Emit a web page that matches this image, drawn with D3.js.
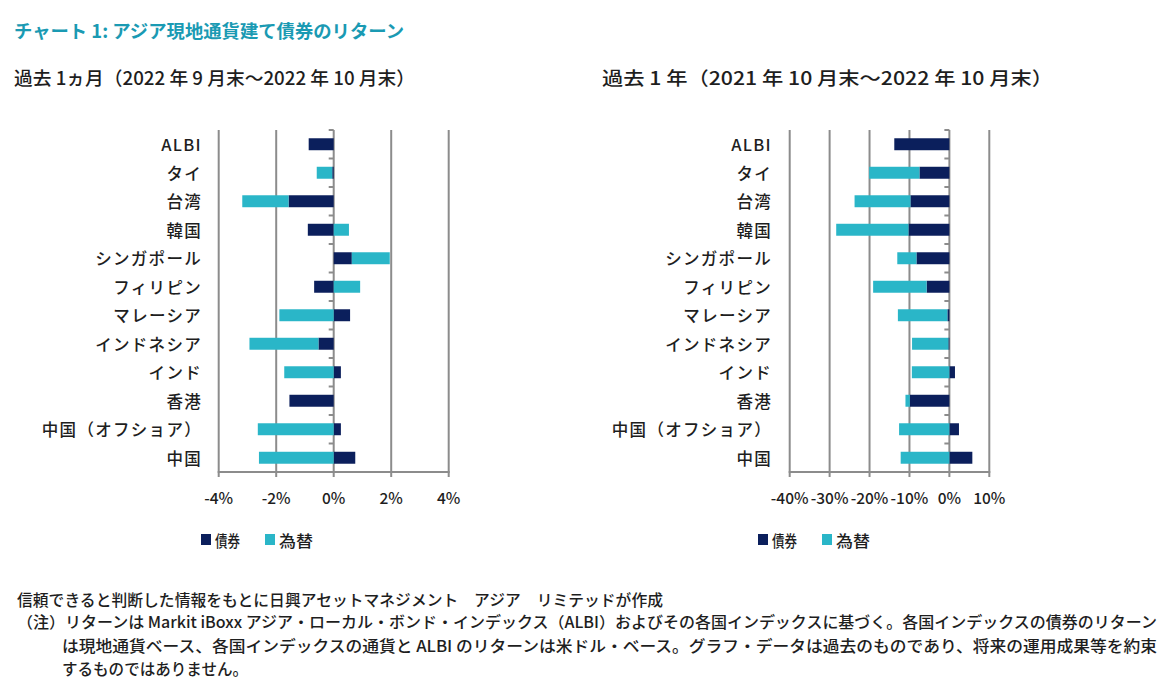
<!DOCTYPE html>
<html><head><meta charset="utf-8">
<script src="https://cdn.jsdelivr.net/npm/d3@7"></script>
<style>
html,body{margin:0;padding:0;background:#fff;}
svg{display:block;font-family:"Noto Sans CJK JP","Noto Sans",sans-serif;}
</style></head>
<body>
<svg id="c" width="1171" height="696"></svg>
<script>
const categories = ["ALBI","タイ","台湾","韓国","シンガポール","フィリピン","マレーシア","インドネシア","インド","香港","中国（オフショア）","中国"];
const seriesNames = ["債券","為替"];
// 1 month (%)
const bond1m = [-0.87,-0.05,-1.57,-0.90,0.63,-0.68,0.57,-0.53,0.25,-1.54,0.25,0.75];
const fx1m   = [0,-0.54,-1.61,0.53,1.32,0.92,-1.89,-2.40,-1.72,0,-2.64,-2.60];
// 1 year (%)
const bond1y = [-13.8,-7.5,-9.75,-10.25,-8.25,-5.7,-0.5,-0.25,1.4,-9.9,2.4,5.75];
const fx1y   = [0,-12.6,-14.0,-18.1,-4.8,-13.4,-12.4,-9.1,-9.4,-1.1,-12.6,-12.2];
const ticks1m = [-4,-2,0,2,4];
const ticks1y = [-40,-30,-20,-10,0,10];

const colors = {"債券":"#0b1f5c","為替":"#2ab6c8"};
const gridColor = "#8c8c8c";
const textColor = "#1e1e1e";
const svg = d3.select("#c");

// Title
svg.append("text").attr("x",14).attr("y",38).attr("fill","#1a9ab3")
  .attr("font-size",18).attr("font-weight","bold")
  .attr("textLength",390).attr("lengthAdjust","spacingAndGlyphs")
  .text("チャート 1: アジア現地通貨建て債券のリターン");

function panel(cfg){
  const g = svg.append("g");
  g.append("text").attr("x",cfg.subX).attr("y",85).attr("fill",textColor)
    .attr("font-size",18.5).attr("font-weight",500).attr("textLength",cfg.subW).attr("lengthAdjust","spacingAndGlyphs")
    .text(cfg.subtitle);
  const x = d3.scaleLinear().domain(cfg.domain).range(cfg.range);
  const y = d3.scaleBand().domain(categories).range([130,472]).paddingInner(0.58).paddingOuter(0.29);
  // grid lines
  g.selectAll(".grid").data(cfg.ticks).join("line")
    .attr("x1",d=>x(d)).attr("x2",d=>x(d)).attr("y1",130).attr("y2",477)
    .attr("stroke",gridColor).attr("stroke-width",2);
  // bottom axis line
  g.append("line").attr("x1",x(cfg.domain[0])-1).attr("x2",x(cfg.domain[1])+1)
    .attr("y1",472).attr("y2",472).attr("stroke",gridColor).attr("stroke-width",2);
  // category ticks on zero line
  const bounds = d3.range(categories.length+1).map(i=>130+i*(342/categories.length));
  g.selectAll(".ct").data(bounds).join("line")
    .attr("x1",x(0)-5).attr("x2",x(0)).attr("y1",d=>d).attr("y2",d=>d)
    .attr("stroke",gridColor).attr("stroke-width",2);
  // bars
  const rows = categories.map((c,i)=>({cat:c,"債券":cfg.bond[i],"為替":cfg.fx[i]}));
  const stack = d3.stack().keys(seriesNames).offset(d3.stackOffsetDiverging)(rows);
  g.selectAll(".s").data(stack).join("g").attr("fill",d=>colors[d.key])
    .selectAll("rect").data(d=>d).join("rect")
    .attr("x",d=>x(Math.min(d[0],d[1])))
    .attr("width",d=>Math.abs(x(d[1])-x(d[0])))
    .attr("y",d=>y(d.data.cat)).attr("height",y.bandwidth());
  // category labels
  g.selectAll(".cl").data(categories).join("text")
    .attr("x",cfg.labelX).attr("y",d=>y(d)+y.bandwidth()/2)
    .attr("dominant-baseline","central").attr("text-anchor","end")
    .attr("font-size",16.5).attr("font-weight",500).attr("letter-spacing",1.3).attr("fill",textColor)
    .text(d=>d);
  // tick labels
  g.selectAll(".tl").data(cfg.ticks).join("text")
    .attr("x",d=>x(d)).attr("y",497).attr("dominant-baseline","central")
    .attr("text-anchor","middle").attr("font-size",15.5).attr("font-weight",500).attr("fill",textColor)
    .text(d=>d+"%");
  // legend
  const lg = g.append("g");
  seriesNames.forEach((s,i)=>{
    const lx = cfg.legX + i*64;
    lg.append("rect").attr("x",lx).attr("y",534).attr("width",10).attr("height",11).attr("fill",colors[s]);
    lg.append("text").attr("x",lx+14).attr("y",540).attr("dominant-baseline","central")
      .attr("font-size",16).attr("font-weight",500).attr("fill",textColor).attr("textLength",i===0?25:34).attr("lengthAdjust","spacingAndGlyphs").text(s);
  });
}

panel({subtitle:"過去 1ヵ月（2022 年 9 月末～2022 年 10 月末）",subX:14,subW:401,
  domain:[-4,4],range:[218.7,448.7],ticks:ticks1m,bond:bond1m,fx:fx1m,labelX:202,legX:201});
panel({subtitle:"過去 1 年（2021 年 10 月末～2022 年 10 月末）",subX:602,subW:451,
  domain:[-40,10],range:[789.7,989.3],ticks:ticks1y,bond:bond1y,fx:fx1y,labelX:772,legX:758});

// footer
const foot = [
  {x:17,y:599,w:646,t:"信頼できると判断した情報をもとに日興アセットマネジメント　アジア　リミテッドが作成"},
  {x:17,y:621,w:1140,t:"（注）リターンは Markit iBoxx アジア・ローカル・ボンド・インデックス（ALBI）およびその各国インデックスに基づく。各国インデックスの債券のリターン"},
  {x:62,y:645,w:1095,t:"は現地通貨ベース、各国インデックスの通貨と ALBI のリターンは米ドル・ベース。グラフ・データは過去のものであり、将来の運用成果等を約束"},
  {x:62,y:668,w:186,t:"するものではありません。"}
];
svg.selectAll(".ft").data(foot).join("text")
  .attr("x",d=>d.x).attr("y",d=>d.y).attr("dominant-baseline","central")
  .attr("font-size",15.5).attr("font-weight",500).attr("fill",textColor)
  .attr("textLength",d=>d.w).attr("lengthAdjust","spacingAndGlyphs")
  .text(d=>d.t);
</script>
</body></html>
